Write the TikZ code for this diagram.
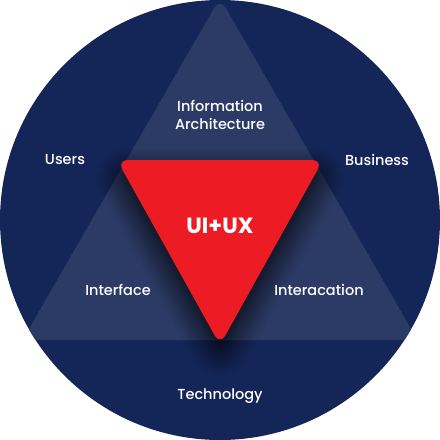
\documentclass[tikz,border=0pt]{standalone}
\usepackage{fontspec}
\setmainfont{Poppins}
\newfontfamily\popmed{Poppins Medium}
\usetikzlibrary{shadows.blur}
\definecolor{navy}{HTML}{142557}
\definecolor{tri}{HTML}{2C3B66}
\definecolor{redtri}{HTML}{ED1C24}
\tikzset{
  lbl/.style={text=white, font=\popmed\fontsize{14.5}{17}\selectfont, align=center, inner sep=0pt},
  core/.style={text=white, font=\bfseries\fontsize{22}{26}\selectfont, inner sep=0pt},
}
\begin{document}
\begin{tikzpicture}[x=1pt,y=-1pt]
\useasboundingbox (0,0) rectangle (440,440);
\fill[navy] (220,220) circle (220);
\begin{scope}
\clip (220,220) circle (220);
\fill[tri, rounded corners=11pt] (220,340) -- (22.5,340) -- (220,-2) -- (417.5,340) -- cycle;
\fill[redtri, rounded corners=11pt,
  blur shadow={shadow xshift=0pt, shadow yshift=-12pt, shadow blur radius=24pt, shadow opacity=90, shadow blur steps=25}]
  (220,160) -- (117,160) -- (220,345) -- (323,160) -- cycle;
\end{scope}
\node[lbl] (ia) at (220,115) {Information\\[1pt]Architecture};
\node[lbl] (users) at (65,160) {Users};
\node[lbl] (business) at (377,160) {Business};
\node[core] (uiux) at (220,226) {UI+UX};
\node[lbl] (interface) at (118,290) {Interface};
\node[lbl] (interaction) at (319,290) {Interacation};
\node[lbl] (tech) at (220,396) {Technology};
\end{tikzpicture}
\end{document}
